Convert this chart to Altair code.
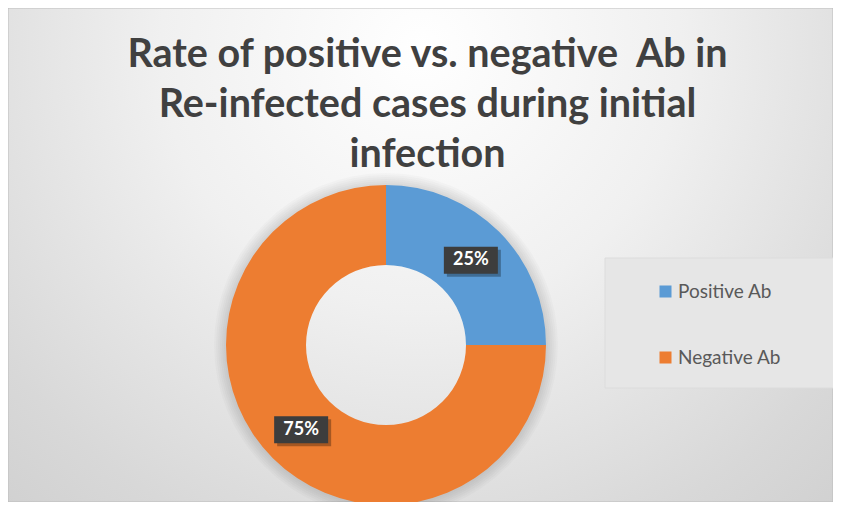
import math
import altair as alt
import pandas as pd

# ---- data ----
categories = ["Positive Ab", "Negative Ab"]
values = [25, 75]
colors = ["#5B9BD5", "#ED7D31"]
title_lines = [
    "Rate of positive vs. negative\u00a0 Ab in",
    "Re-infected cases during initial",
    "infection",
]

W, H = 825, 494
CX, CY = 378, 337
R_OUT, R_IN = 160, 80

df = pd.DataFrame({"category": categories, "value": values, "order": list(range(len(categories)))})

empty = alt.Data(values=[{}])

bg = alt.Chart(empty).mark_rect(
    fill=alt.RadialGradient(
        gradient="radial",
        stops=[
            alt.GradientStop(offset=0, color="#ffffff"),
            alt.GradientStop(offset=0.35, color="#f0f0f0"),
            alt.GradientStop(offset=0.7, color="#d8d8d8"),
            alt.GradientStop(offset=1, color="#c8c8c8"),
        ],
        x1=0.5, y1=0.25, r1=0, x2=0.5, y2=0.25, r2=0.9,
    ),
    stroke="#bdbdbd",
    strokeWidth=1,
).encode(x=alt.value(0), x2=alt.value(W), y=alt.value(0), y2=alt.value(H))

legend_box = alt.Chart(empty).mark_rect(
    fill="#e6e6e6", stroke="#dcdcdc", strokeWidth=1
).encode(x=alt.value(597), x2=alt.value(830), y=alt.value(250), y2=alt.value(380))

# soft halo around the donut
halo = alt.layer(*[
    alt.Chart(empty).mark_arc(innerRadius=R_OUT - 2, outerRadius=R_OUT + d, color="#000000", opacity=0.018).encode(
        theta=alt.value(0), theta2=alt.value(2 * math.pi), x=alt.value(CX), y=alt.value(CY)
    )
    for d in (2, 4, 6, 8, 10, 12)
])

color_scale = alt.Scale(domain=categories, range=colors)

donut = alt.Chart(df).mark_arc(outerRadius=R_OUT, innerRadius=R_IN, stroke=None).encode(
    theta=alt.Theta("value:Q", stack=True),
    order=alt.Order("order:Q"),
    color=alt.Color(
        "category:N",
        scale=color_scale,
        legend=alt.Legend(
            orient="none", legendX=648, legendY=274, title=None,
            symbolType="square", symbolSize=144, symbolStrokeWidth=0,
            labelFontSize=19, labelFont="Lato", labelColor="#595959",
            labelOffset=3, rowPadding=46, padding=0,
        ),
    ),
    x=alt.value(CX),
    y=alt.value(CY),
)

xs = alt.Scale(domain=[-1, 1], range=[CX - R_OUT, CX + R_OUT])
ys = alt.Scale(domain=[-1, 1], range=[CY + R_OUT, CY - R_OUT])

labels_base = alt.Chart(df).transform_joinaggregate(
    total="sum(value)"
).transform_window(
    cum="sum(value)", sort=[alt.SortField("order")]
).transform_calculate(
    mid="(datum.cum - datum.value / 2) / datum.total * 2 * PI",
    lx="0.75 * sin(datum.mid)",
    ly="0.75 * cos(datum.mid)",
    pct="format(datum.value / datum.total, '.0%')",
).encode(
    x=alt.X("lx:Q", scale=xs, axis=None),
    y=alt.Y("ly:Q", scale=ys, axis=None),
)

box_shape = "M-1,-0.5H1V0.5H-1Z"
shadow = labels_base.mark_point(
    shape=box_shape, size=54 * 54, filled=True, color="#000000", opacity=0.3,
    xOffset=3, yOffset=3, strokeWidth=0,
)
box = labels_base.mark_point(
    shape=box_shape, size=54 * 54, filled=True, color="#3d3d3d", opacity=1, strokeWidth=0,
)
text = labels_base.mark_text(
    font="Lato", fontSize=18, fontWeight="bold", color="#ffffff", align="center", baseline="middle",
).encode(text="pct:N")

chart = alt.layer(bg, legend_box, halo, donut, shadow, box, text).properties(
    width=W,
    height=H,
    padding=0,
    autosize=alt.AutoSizeParams(type="none"),
    title=alt.TitleParams(
        text=title_lines,
        font="Lato",
        fontSize=39.5,
        fontWeight="bold",
        color="#404040",
        lineHeight=50,
        anchor="middle",
        baseline="top",
        offset=0,
        dx=7,
        dy=168,
    ),
).configure_view(stroke=None).configure(background="#ffffff")

chart.save("out.html", embed_options={"renderer": "svg", "actions": False})
